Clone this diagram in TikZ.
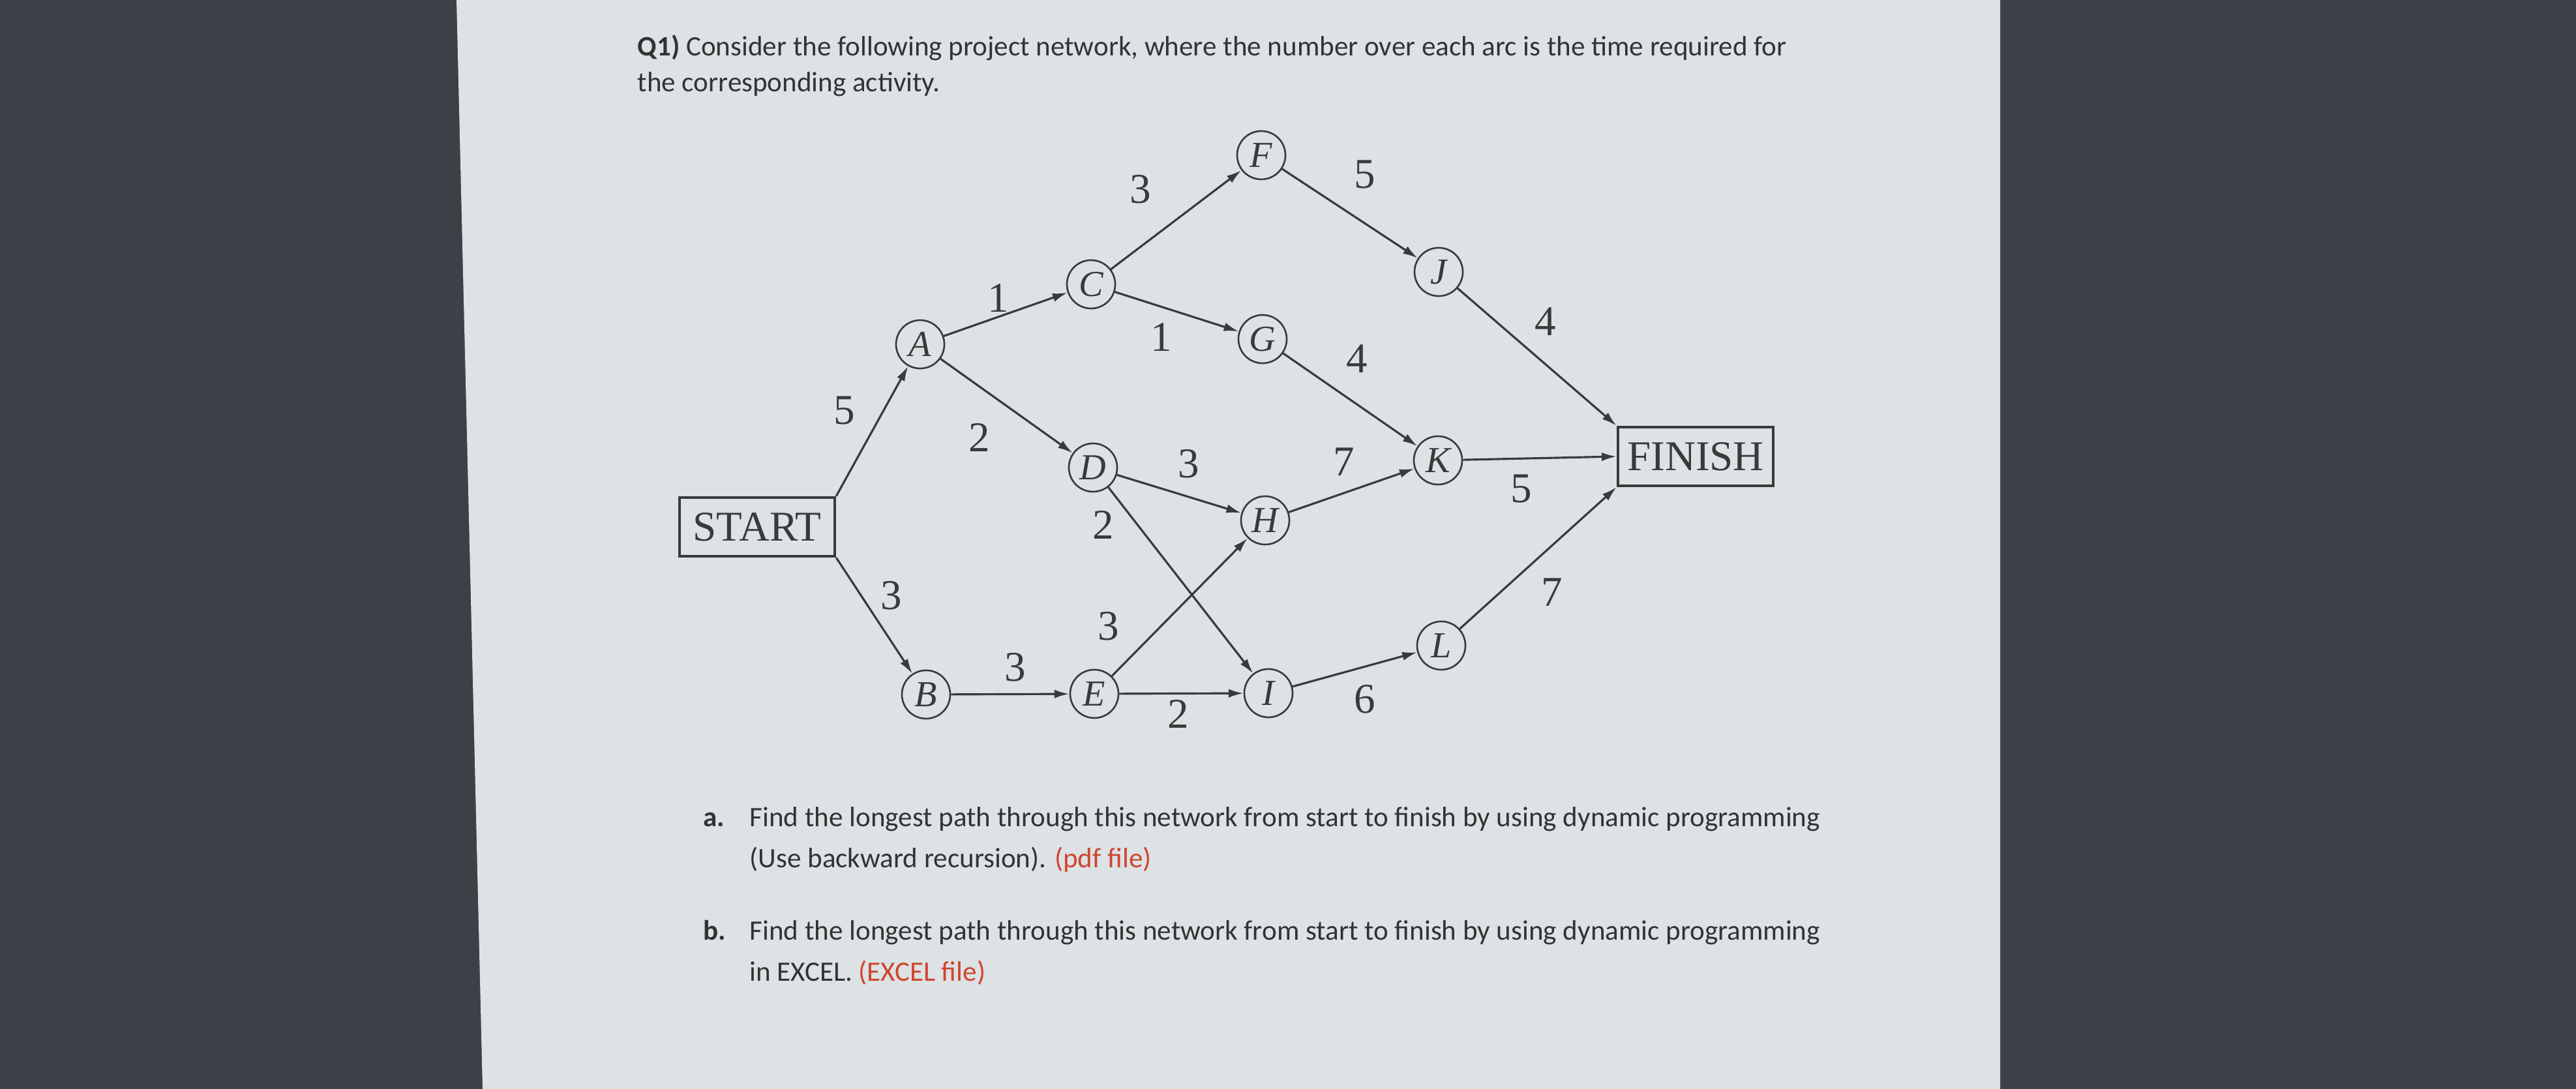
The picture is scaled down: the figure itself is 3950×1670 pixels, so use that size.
\documentclass[tikz,border=0pt]{standalone}
\usepackage{fontspec}
\setmainfont{Carlito}
\newfontfamily\netfont{Liberation Serif}
\usepackage{xcolor}
\usetikzlibrary{arrows.meta,positioning}

\definecolor{screen}{HTML}{DDE2E5}
\definecolor{desk}{HTML}{3B4146}
\definecolor{ink}{HTML}{3A3A3A}
\definecolor{linkred}{HTML}{D0452F}

\tikzset{
  event/.style={draw=ink, circle, line width=0.75pt, minimum size=0.74cm, inner sep=0pt,
    font=\netfont\fontsize{16}{16}\selectfont\itshape, text=ink},
  term/.style={draw=ink, rectangle, line width=1.2pt, minimum width=2.38cm, minimum height=0.9cm,
    inner sep=0pt, font=\netfont\fontsize{18.5}{18.5}\selectfont, text=ink},
  flow/.style={draw=ink, line width=0.9pt, -{Latex[length=6.5pt,width=3.8pt]}},
  wt/.style={font=\netfont\fontsize{18.5}{18.5}\selectfont, text=ink, inner sep=0pt},
  para/.style={anchor=base west, inner sep=0pt, font=\fontsize{12.25}{15}\selectfont, text=black!80},
}

\begin{document}
\begin{tikzpicture}[x=0.01cm, y=-0.01cm]
    % photo of the screen
    \fill[desk] (0,0) rectangle (3950,1670);
    \fill[screen] (700,0) -- (3067,0) -- (3067,1670) -- (740,1670) -- cycle;
    \useasboundingbox (0,0) rectangle (3950,1670);

    % question
    \node[para] (q1) at (977,86) {\textbf{Q1)} Consider the following project network, where the number over each arc is the time required for};
    \node[para] (q2) at (977,141) {the corresponding activity.};

    % network
    \node[term] (START) at (1161,808) {START};
    \node[term] (FINISH) at (2600,700) {FINISH};
    \foreach \name/\x/\y in {A/1411/528, B/1420/1065, C/1673/436, D/1676/717, E/1678/1064,
        F/1934/238, G/1936/520, H/1940/798, I/1945/1063, J/2206/417, K/2205/706, L/2210/990} {
        \node[event] (\name) at (\x,\y) {\name};
    }
    \foreach \s/\t/\w/\x/\y [count=\n] in {START.north east/A/5/1295/630, START.south east/B/3/1367/913,
        A/C/1/1531/457, A/D/2/1502/671, B/E/3/1557/1023, C/F/3/1749/290, C/G/1/1781/517,
        D/H/3/1823/711, D/I/2/1692/805, E/H/3/1700/960, E/I/2/1807/1095, F/J/5/2093/268,
        G/K/4/2081/550, H/K/7/2061/708, I/L/6/2093/1072, J/FINISH.north west/4/2370/493,
        K/FINISH.west/5/2333/750, L/FINISH.south west/7/2380/908} {
        \draw[flow] (\s) -- (\t);
        \node[wt] (w\n) at (\x,\y) {\w};
    }

    % parts
    \node[para] (pa) at (1078,1267) {\textbf{a.}};
    \node[para] (pa1) at (1149,1267) {Find the longest path through this network from start to finish by using dynamic programming};
    \node[para] (pa2) at (1149,1330) {(Use backward recursion). \textcolor{linkred}{(pdf file)}};
    \node[para] (pb) at (1078,1441) {\textbf{b.}};
    \node[para] (pb1) at (1149,1441) {Find the longest path through this network from start to finish by using dynamic programming};
    \node[para] (pb2) at (1149,1504) {in EXCEL. \textcolor{linkred}{(EXCEL file)}};
\end{tikzpicture}
\end{document}
